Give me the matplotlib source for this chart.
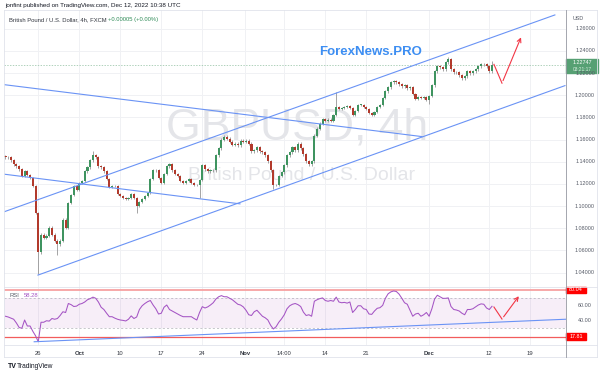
import matplotlib
matplotlib.use("Agg")
import matplotlib.pyplot as plt
import matplotlib.transforms as mtransforms
from matplotlib.patches import Rectangle
from matplotlib.lines import Line2D

plt.rcParams['font.family'] = ['Liberation Sans', 'DejaVu Sans']

# GBPUSD closes, one value per 8h bar, from Sep 20 to Dec 12 2022
closes = [
    1.1439, 1.1439, 1.1413, 1.1377, 1.1359, 1.1332, 1.1270, 1.1314, 1.1279, 1.1252,
    1.1180, 1.0939, 1.0582, 1.0743, 1.0716, 1.0734, 1.0805, 1.0743, 1.0689, 1.0654,
    1.0689, 1.0877, 1.0805, 1.1029, 1.1100, 1.1180, 1.1145, 1.1207, 1.1225, 1.1314,
    1.1350, 1.1413, 1.1457, 1.1439, 1.1359, 1.1350, 1.1314, 1.1243, 1.1171, 1.1180,
    1.1180, 1.1109, 1.1091, 1.1073, 1.1064, 1.1073, 1.1109, 1.1073, 1.1002, 1.1038,
    1.1064, 1.1091, 1.1118, 1.1243, 1.1323, 1.1323, 1.1252, 1.1207, 1.1288, 1.1359,
    1.1377, 1.1323, 1.1288, 1.1270, 1.1225, 1.1207, 1.1225, 1.1243, 1.1207, 1.1189,
    1.1189, 1.1234, 1.1368, 1.1332, 1.1314, 1.1323, 1.1323, 1.1457, 1.1520, 1.1600,
    1.1627, 1.1609, 1.1582, 1.1555, 1.1564, 1.1547, 1.1591, 1.1582, 1.1591, 1.1564,
    1.1493, 1.1502, 1.1529, 1.1493, 1.1484, 1.1457, 1.1404, 1.1323, 1.1189, 1.1189,
    1.1270, 1.1305, 1.1368, 1.1457, 1.1484, 1.1529, 1.1502, 1.1564, 1.1520, 1.1466,
    1.1404, 1.1377, 1.1404, 1.1636, 1.1698, 1.1743, 1.1787, 1.1770, 1.1779, 1.1770,
    1.1823, 1.1895, 1.1877, 1.1886, 1.1895, 1.1904, 1.1886, 1.1823, 1.1859, 1.1913,
    1.1913, 1.1895, 1.1877, 1.1841, 1.1823, 1.1850, 1.1895, 1.1913, 1.1975, 1.2037,
    1.2073, 1.2118, 1.2127, 1.2118, 1.2100, 1.2082, 1.2091, 1.2064, 1.2073, 1.2011,
    1.1966, 1.1984, 1.1975, 1.1984, 1.1957, 1.1993, 1.2091, 1.2216, 1.2261, 1.2252,
    1.2234, 1.2296, 1.2323, 1.2234, 1.2207, 1.2207, 1.2180, 1.2154, 1.2171, 1.2216,
    1.2198, 1.2216, 1.2234, 1.2261, 1.2279, 1.2279, 1.2261, 1.2216, 1.2275,
]
first_open = 1.1450
# notable wick extremes (bar index -> price)
spike_highs = {32: 1.1493, 121: 1.2029, 162: 1.2341, 178: 1.2305}
spike_lows = {12: 1.0386, 19: 1.0555, 48: 1.0939, 71: 1.1073, 98: 1.1154, 155: 1.1922}

rsi = [
    45, 44, 42.5, 41, 36, 30, 29, 40, 32, 32,
    25, 19, 11, 37, 37, 39, 38.5, 42, 41, 42,
    46, 51, 50, 62, 60.5, 58, 58.5, 61, 62, 64,
    67, 68.5, 70.5, 69, 64, 57, 54, 49, 44.4, 44.4,
    42.5, 41, 40, 39.5, 38.7, 41, 45.5, 42, 44, 54,
    59, 62, 64.4, 66, 60, 55, 48, 49, 57, 60,
    54, 52, 50, 48, 46, 44.4, 44.4, 44.4, 44.4, 42,
    40, 50, 57.8, 56, 57.5, 60, 63, 68, 71, 72.5,
    71, 71, 69, 67, 64, 61, 60, 57.5, 53, 47,
    46, 51, 53, 49, 45, 43, 40, 33, 28, 31,
    37, 41.5, 47, 55, 59, 61, 62, 60.5, 58, 50.5,
    46, 47, 45, 65, 67, 68.5, 69.5, 66, 65, 66,
    65, 70.5, 64, 63, 63.5, 62.5, 64, 50, 54, 59,
    59, 55, 54, 48, 47.5, 52, 55.6, 56.4, 59.5, 69,
    75, 77.5, 78.7, 78, 74.5, 69, 63, 61, 53, 45,
    48, 49, 45, 47, 50, 45, 55, 68, 73, 71,
    68.9, 68.9, 69.5, 58, 54, 53.3, 52, 49, 47, 54,
    54, 55, 57.5, 60, 61.5, 61, 56, 54, 58.28,
]
rsi_high, rsi_low = 80.04, 17.81
last_price = 1.22747

# trading-day index: 0 = Mon Sep 26
bar_step = 1 / 3
first_bar_day = -4.0
tick_days = [0, 5, 10, 15, 20, 25.2, 30, 35, 40, 47.7, 55, 60]
tick_labels = ['26', 'Oct', '10', '17', '24', 'Nov', '14:00', '14', '21', 'Dec', '12', '19']
price_ticks = [1.04, 1.06, 1.08, 1.10, 1.12, 1.14, 1.16, 1.18, 1.20, 1.22, 1.24, 1.26]

# drawn trend lines: (day, price) endpoints
channel_up = [(-4.18, 1.0948), (63.0, 1.2725)]
channel_low = [(-0.04, 1.0377), (64.23, 1.2087)]
desc_top = [(-4.18, 1.2096), (46.8, 1.1627)]
desc_bot = [(-4.18, 1.1288), (24.6, 1.1020)]
forecast = [(55.57, 1.2279), (56.55, 1.2109), (59.0, 1.2546)]
rsi_trend = [(-0.5, 11.0), (64.3, 41.0)]
rsi_forecast = [(55.57, 57.3), (56.55, 41.3), (58.8, 74.7)]

W, H = 600, 376
def fx(px): return px / W
def fy(py): return 1 - py / H

fig = plt.figure(figsize=(6, 3.76), dpi=100)
L, R = 4, 565.7
ax = fig.add_axes([fx(L), fy(287), fx(R) - fx(L), fy(10) - fy(287)])
rax = fig.add_axes([fx(L), fy(345), fx(R) - fx(L), fy(287) - fy(345)], sharex=ax)

grid_c = '#f0f1f4'
blue = '#6a93f5'
red_fc = '#f23645'

for a in (ax, rax):
    for s in a.spines.values():
        s.set_visible(False)
    for d in tick_days:
        a.axvline(d, color=grid_c, lw=0.7, zorder=0)
for p in price_ticks:
    ax.axhline(p, color=grid_c, lw=0.7, zorder=0)

ax.set_xlim(-4.18, 64.32)
ax.set_ylim(1.02696, 1.27696)
ax.set_yticks([])
ax.tick_params(axis='x', length=0, labelbottom=False)

# watermark
ax.text(0.5225, 0.574, 'GBPUSD, 4h', transform=ax.transAxes, ha='center', va='center',
        fontsize=32, color='#e4e5e9', zorder=0)
ax.text(0.529, 0.404, 'British Pound / U.S. Dollar', transform=ax.transAxes, ha='center',
        va='center', fontsize=14, color='#e4e5e9', zorder=0)

# candles
xs, opens, highs, lows = [], [], [], []
prev = first_open
for i, c in enumerate(closes):
    xs.append(first_bar_day + i * bar_step)
    opens.append(prev)
    highs.append(spike_highs.get(i, max(prev, c) + 0.0012))
    lows.append(spike_lows.get(i, min(prev, c) - 0.0012))
    prev = c
ax.vlines(xs, lows, highs, color='#8c8c8c', lw=0.55, zorder=2)
body_c = ['#3f9460' if c >= o else '#b23a2c' for o, c in zip(opens, closes)]
heights = [c - o if abs(c - o) > 0.0004 else 0.0004 for o, c in zip(opens, closes)]
ax.bar(xs, heights, bottom=opens, width=0.25, color=body_c, zorder=3, linewidth=0)

for seg in (channel_up, channel_low, desc_top, desc_bot):
    ax.plot([seg[0][0], seg[1][0]], [seg[0][1], seg[1][1]], color=blue, lw=0.8, zorder=4)

ax.plot([p[0] for p in forecast[:2]], [p[1] for p in forecast[:2]], color=red_fc, lw=0.8, zorder=4)
ax.annotate('', xy=forecast[2], xytext=forecast[1],
            arrowprops=dict(arrowstyle='->', color=red_fc, lw=0.8, mutation_scale=7), zorder=4)

ax.axhline(last_price, color='#8fbfa0', lw=0.5, ls=(0, (2, 2)), zorder=1)

fig.text(fx(371), fy(52), 'ForexNews.PRO', ha='center', va='center', fontsize=9.5,
         fontweight='bold', color='#3d8ef2')

# RSI pane
rax.set_ylim(6.67, 84)
rax.axhspan(30, 70, color='#9c27b0', alpha=0.08, lw=0, zorder=0)
rax.axhline(70, color='#b0b0b8', lw=0.5, ls=(0, (3, 3)))
rax.axhline(30, color='#b0b0b8', lw=0.5, ls=(0, (3, 3)))
rax.axhline(rsi_high, color='#f7a1a1', lw=1.3)
rax.axhline(rsi_low, color='#f25c5c', lw=0.9)
rax.plot(xs, rsi, color='#a454c4', lw=0.75, zorder=3)
rax.plot([rsi_trend[0][0], rsi_trend[1][0]], [rsi_trend[0][1], rsi_trend[1][1]],
         color=blue, lw=0.8, zorder=4)
rax.plot([p[0] for p in rsi_forecast[:2]], [p[1] for p in rsi_forecast[:2]], color=red_fc,
         lw=0.8, zorder=4)
rax.annotate('', xy=rsi_forecast[2], xytext=rsi_forecast[1],
             arrowprops=dict(arrowstyle='->', color=red_fc, lw=0.8, mutation_scale=7), zorder=4)
rax.set_yticks([])
rax.set_xticks(tick_days)
rax.set_xticklabels(tick_labels, fontsize=4.2, color='#333740')
for lab in rax.get_xticklabels():
    if lab.get_text() in ('Oct', 'Nov', 'Dec'):
        lab.set_fontweight('bold')
rax.tick_params(axis='x', length=0, pad=4)

rax.text(0.009, 0.86, 'RSI', transform=rax.transAxes, fontsize=4.2, color='#555a66', va='center')
rax.text(0.035, 0.86, '58.28', transform=rax.transAxes, fontsize=4.2, color='#a454c4', va='center')

# price axis labels
ptr = mtransforms.blended_transform_factory(fig.transFigure, ax.transData)
for p in price_ticks:
    fig.text(fx(585), p, f'{p:.5f}', transform=ptr, ha='center', va='center',
             fontsize=3.9, color='#555a66')
fig.text(fx(573), fy(19), 'USD', ha='left', va='center', fontsize=3.9, color='#555a66')
ax.add_patch(Rectangle((fx(566), last_price - 0.0071), fx(598) - fx(566), 0.0125,
                       transform=ptr, color='#56a073', clip_on=False, zorder=6))
fig.text(fx(582), last_price + 0.0022, f'{last_price:.5f}', transform=ptr, ha='center',
         va='center', fontsize=3.9, color='white', zorder=7)
fig.text(fx(582), last_price - 0.0040, '03:21:17', transform=ptr, ha='center',
         va='center', fontsize=3.5, color='#d8eee0', zorder=7)

rtr = mtransforms.blended_transform_factory(fig.transFigure, rax.transData)
for v in (60, 40):
    fig.text(fx(585), v, f'{v:.2f}', transform=rtr, ha='center', va='center',
             fontsize=3.9, color='#555a66')
for v in (rsi_high, rsi_low):
    rax.add_patch(Rectangle((fx(566), v - 4.3), fx(586) - fx(566), 8.6, transform=rtr,
                            color='#ff0000', clip_on=False, zorder=6))
    fig.text(fx(576), v, f'{v:.2f}', transform=rtr, ha='center', va='center',
             fontsize=3.9, color='white', zorder=7)

# frame lines
frame = '#e0e3eb'
for yy in (10, 287, 345, 357):
    fig.add_artist(Line2D([fx(4), fx(597)], [fy(yy), fy(yy)], color=frame, lw=0.6))
for xx in (4, 597):
    fig.add_artist(Line2D([fx(xx), fx(xx)], [fy(10), fy(357)], color=frame, lw=0.6))
fig.add_artist(Line2D([fx(565.7), fx(565.7)], [fy(10), fy(357)], color='#9598a1', lw=0.6))

# header and footer
fig.text(fx(5), fy(5.5), 'jonfint published on TradingView.com, Dec 12, 2022 10:38 UTC',
         fontsize=4.5, color='#131722', va='center')
fig.text(fx(9), fy(19.5), 'British Pound / U.S. Dollar, 4h, FXCM', fontsize=4.2,
         color='#333740', va='center')
fig.text(fx(108), fy(19.5), '+0.00005 (+0.00%)', fontsize=4.2, color='#2e8b57', va='center')
fig.text(fx(8), fy(367), 'TV', fontsize=5, fontweight='bold', color='#131722', va='center')
fig.text(fx(17), fy(367), 'TradingView', fontsize=4.8, color='#131722', va='center')

fig.savefig('out.png', dpi=100, facecolor='white')
